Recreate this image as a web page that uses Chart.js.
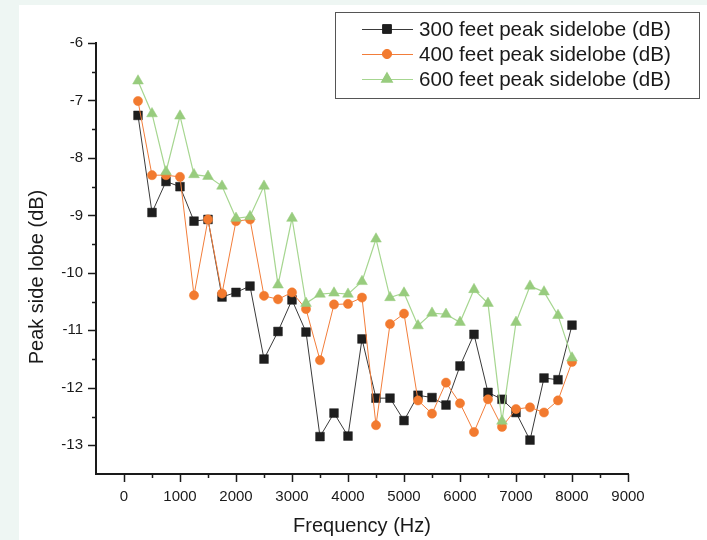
<!DOCTYPE html>
<html>
<head>
<meta charset="utf-8">
<script src="https://cdn.jsdelivr.net/npm/chart.js@4/dist/chart.umd.min.js"></script>
<style>
  html, body { margin: 0; padding: 0; }
  body { width: 707px; height: 540px; background: #eef6f3; position: relative; overflow: hidden; }
  #paper { position: absolute; left: 19px; top: 5px; width: 688px; height: 535px; background: #ffffff; }
  #wrap { position: absolute; left: 0; top: 0; width: 707px; height: 540px; }
</style>
</head>
<body>
<div id="paper"></div>
<div id="wrap"><canvas id="c" width="707" height="540"></canvas></div>
<script>
// ---- data ----
const frequencies = [250, 500, 750, 1000, 1250, 1500, 1750, 2000, 2250, 2500, 2750, 3000, 3250, 3500, 3750, 4000,
                     4250, 4500, 4750, 5000, 5250, 5500, 5750, 6000, 6250, 6500, 6750, 7000, 7250, 7500, 7750, 8000];
const sidelobe300 = [-7.26, -8.95, -8.41, -8.50, -9.10, -9.07, -10.42, -10.34, -10.23, -11.50, -11.02, -10.47, -11.03, -12.85, -12.44, -12.84,
                     -11.15, -12.18, -12.18, -12.57, -12.13, -12.17, -12.30, -11.62, -11.07, -12.08, -12.20, -12.43, -12.91, -11.83, -11.86, -10.91];
const sidelobe400 = [-7.01, -8.30, -8.30, -8.33, -10.39, -9.07, -10.36, -9.10, -9.07, -10.40, -10.46, -10.34, -10.63, -11.52, -10.55, -10.54,
                     -10.43, -12.65, -10.89, -10.71, -12.22, -12.45, -11.91, -12.27, -12.77, -12.20, -12.68, -12.37, -12.34, -12.43, -12.22, -11.55];
const sidelobe600 = [-6.66, -7.23, -8.24, -7.27, -8.29, -8.32, -8.49, -9.05, -9.02, -8.49, -10.21, -9.05, -10.53, -10.37, -10.35, -10.37,
                     -10.15, -9.41, -10.43, -10.35, -10.92, -10.70, -10.72, -10.86, -10.29, -10.53, -12.58, -10.86, -10.23, -10.33, -10.74, -11.48];
const seriesLabels = ['300 feet peak sidelobe (dB)', '400 feet peak sidelobe (dB)', '600 feet peak sidelobe (dB)'];
const xTickValues = [0, 1000, 2000, 3000, 4000, 5000, 6000, 7000, 8000, 9000];
const yTickValues = [-13, -12, -11, -10, -9, -8, -7, -6];
const xTitle = 'Frequency (Hz)';
const yTitle = 'Peak side lobe (dB)';

const FONT = '"Liberation Sans", Arial, Helvetica, sans-serif';

function pts(values) { return frequencies.map((f, i) => ({ x: f, y: values[i] })); }

const styles = [
  { line: '#3a3a3a', fill: '#1e1e1e', point: 'rect', radius: 6.2, width: 1 },
  { line: '#f27d3a', fill: '#f27a2f', point: 'circle', radius: 4.6, width: 1 },
  { line: '#a6d690', fill: '#98cc7e', point: 'triangle', radius: 6.2, width: 1.2 }
];

const datasets = [sidelobe300, sidelobe400, sidelobe600].map((vals, i) => ({
  label: seriesLabels[i],
  data: pts(vals),
  borderColor: styles[i].line,
  borderWidth: styles[i].width,
  backgroundColor: styles[i].fill,
  pointBackgroundColor: styles[i].fill,
  pointBorderColor: styles[i].fill,
  pointBorderWidth: 0.5,
  pointStyle: styles[i].point,
  pointRadius: styles[i].radius,
  pointHoverRadius: styles[i].radius,
  tension: 0,
  fill: false,
  order: 2 - i
}));

const tickMarks = {
  id: 'tickMarks',
  afterDraw(chart) {
    const { ctx, scales: { x, y }, chartArea } = chart;
    ctx.save();
    ctx.strokeStyle = '#1a1a1a';
    ctx.lineWidth = 1.5;
    ctx.beginPath();
    for (let v = 0; v <= 9000; v += 500) {
      const px = Math.round(x.getPixelForValue(v)) + 0.5;
      const len = (v % 1000 === 0) ? 8 : 4;
      ctx.moveTo(px, chartArea.bottom);
      ctx.lineTo(px, chartArea.bottom + len);
    }
    for (let v = -13; v <= -6; v += 0.5) {
      const py = Math.round(y.getPixelForValue(v)) + 0.5;
      const len = Number.isInteger(v) ? 8 : 4;
      ctx.moveTo(chartArea.left, py);
      ctx.lineTo(chartArea.left - len, py);
    }
    ctx.stroke();
    // y-axis title (offset below plot centre, as in the reference)
    ctx.fillStyle = '#1a1a1a';
    ctx.font = '20px ' + FONT;
    ctx.textAlign = 'center';
    ctx.textBaseline = 'middle';
    ctx.translate(37.5, 277);
    ctx.rotate(-Math.PI / 2);
    ctx.fillText(yTitle, 0, 0);
    ctx.restore();
  }
};

const boxLegend = {
  id: 'boxLegend',
  afterDraw(chart) {
    const ctx = chart.ctx;
    ctx.save();
    const bx = 335, by = 12, bw = 364, bh = 86;
    ctx.strokeStyle = '#555555';
    ctx.lineWidth = 1;
    ctx.strokeRect(bx + 0.5, by + 0.5, bw, bh);
    const rows = [29, 54, 79];
    chart.data.datasets.forEach((ds, i) => {
      const yy = rows[i];
      ctx.strokeStyle = ds.borderColor;
      ctx.lineWidth = ds.borderWidth;
      ctx.beginPath();
      ctx.moveTo(362, yy + 0.5);
      ctx.lineTo(413, yy + 0.5);
      ctx.stroke();
      ctx.fillStyle = ds.pointBackgroundColor;
      ctx.strokeStyle = ds.pointBorderColor;
      Chart.helpers.drawPoint(ctx, { pointStyle: ds.pointStyle, radius: ds.pointRadius, borderWidth: 0.5, rotation: 0 }, 387, yy);
      ctx.fillStyle = '#1a1a1a';
      ctx.font = '20.6px ' + FONT;
      ctx.textBaseline = 'middle';
      ctx.textAlign = 'left';
      ctx.fillText(ds.label, 419, yy + 1);
    });
    ctx.restore();
  }
};

new Chart(document.getElementById('c'), {
  type: 'line',
  data: { datasets },
  options: {
    responsive: false,
    animation: false,
    events: [],
    layout: { padding: { left: 0, top: 43, right: 79, bottom: 0 } },
    plugins: { legend: { display: false }, tooltip: { enabled: false } },
    scales: {
      x: {
        type: 'linear',
        min: -500,
        max: 9000,
        afterBuildTicks(scale) { scale.ticks = xTickValues.map(v => ({ value: v })); },
        afterFit(scale) { scale.height = 66; },
        grid: { display: true, drawOnChartArea: false, drawTicks: false },
        border: { display: true, color: '#1a1a1a', width: 2 },
        ticks: { color: '#1a1a1a', font: { family: FONT, size: 15 }, padding: 14, maxRotation: 0, autoSkip: false,
                 callback: v => String(v) },
        title: { display: true, text: xTitle, color: '#1a1a1a', font: { family: FONT, size: 20 }, padding: { top: 0, bottom: 2 } }
      },
      y: {
        type: 'linear',
        min: -13.5,
        max: -6,
        afterBuildTicks(scale) { scale.ticks = yTickValues.map(v => ({ value: v })); },
        afterFit(scale) { scale.width = 96; },
        grid: { display: true, drawOnChartArea: false, drawTicks: false },
        border: { display: true, color: '#1a1a1a', width: 2 },
        ticks: { color: '#1a1a1a', font: { family: FONT, size: 15 }, padding: 13, autoSkip: false,
                 callback: v => String(v) },
        title: { display: false, text: yTitle }
      }
    }
  },
  plugins: [tickMarks, boxLegend]
});
</script>
</body>
</html>
